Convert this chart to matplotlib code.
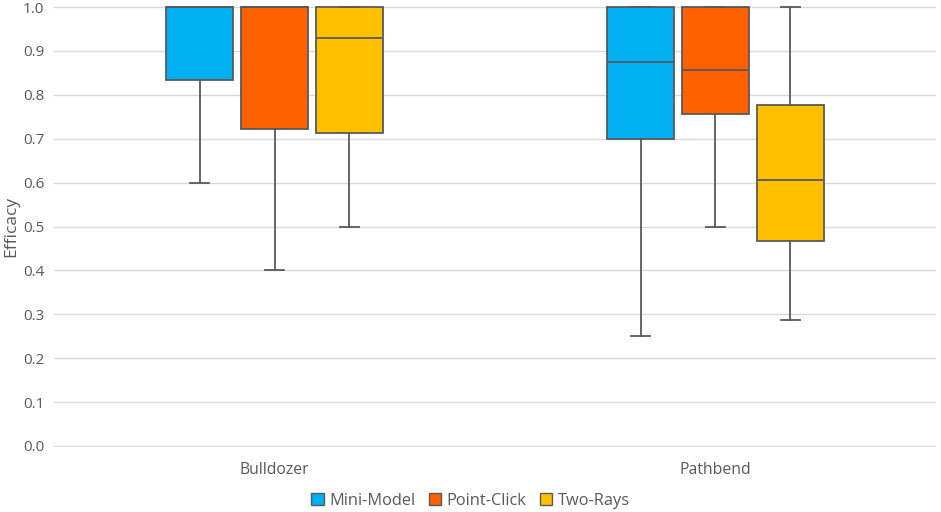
import matplotlib.pyplot as plt
from matplotlib.patches import Patch

categories = ["Bulldozer", "Pathbend"]
series = ["Mini-Model", "Point-Click", "Two-Rays"]
colors = ["#00B0F0", "#FF6000", "#FFC000"]

# per series: values for [Bulldozer, Pathbend]
whislo = {"Mini-Model": [0.600, 0.250], "Point-Click": [0.400, 0.500], "Two-Rays": [0.500, 0.286]}
q1 = {"Mini-Model": [0.833, 0.700], "Point-Click": [0.723, 0.757], "Two-Rays": [0.714, 0.467]}
med = {"Mini-Model": [1.000, 0.875], "Point-Click": [1.000, 0.857], "Two-Rays": [0.929, 0.605]}
q3 = {"Mini-Model": [1.000, 1.000], "Point-Click": [1.000, 1.000], "Two-Rays": [1.000, 0.778]}
whishi = {"Mini-Model": [1.000, 1.000], "Point-Click": [1.000, 1.000], "Two-Rays": [1.000, 1.000]}

edge = "#595959"
txt = "#595959"
plt.rcParams['font.family'] = ['Open Sans', 'DejaVu Sans']

fig = plt.figure(figsize=(9.41, 5.12), dpi=100)
ax = fig.add_axes([54/941, 65/512, 882/941, 441/512])

offsets = [-0.17, 0.0, 0.17]
for s, name in enumerate(series):
    stats = []
    for c in range(len(categories)):
        stats.append(dict(whislo=whislo[name][c], q1=q1[name][c], med=med[name][c],
                          q3=q3[name][c], whishi=whishi[name][c], fliers=[]))
    pos = [0.5 + c + offsets[s] for c in range(len(categories))]
    ax.bxp(stats, positions=pos, widths=0.154, patch_artist=True, showfliers=False,
           boxprops=dict(facecolor=colors[s], edgecolor=edge, linewidth=1.3),
           medianprops=dict(color=edge, linewidth=1.3),
           whiskerprops=dict(color=edge, linewidth=1.3),
           capprops=dict(color=edge, linewidth=1.3),
           capwidths=0.044, manage_ticks=False)

ax.set_xlim(0, 2)
ax.set_ylim(-0.0025, 1.0025)
ax.set_yticks([i / 10 for i in range(11)])
ax.set_yticklabels([f"{i/10:.1f}" for i in range(11)])
ax.set_xticks([0.5, 1.5])
ax.set_xticklabels(categories)
ax.grid(axis='y', color="#d9d9d9", linewidth=1.0)
ax.set_axisbelow(True)
for sp in ax.spines.values():
    sp.set_visible(False)
ax.tick_params(axis='both', length=0, labelsize=11, colors=txt, pad=7)
ax.tick_params(axis='x', labelsize=11.3, pad=11)
ax.set_ylabel("Efficacy", fontsize=12.5, color=txt)
ax.yaxis.set_label_coords(-35/882, 0.5)

handles = [Patch(facecolor=colors[i], edgecolor=edge, label=series[i]) for i in range(3)]
fig.legend(handles=handles, loc='center', bbox_to_anchor=(0.5, 1 - 501/512), ncol=3,
           frameon=False, fontsize=11.8, handlelength=0.75, handleheight=0.75,
           handletextpad=0.35, columnspacing=0.8, labelcolor=txt)

fig.savefig("out.png", dpi=100)
